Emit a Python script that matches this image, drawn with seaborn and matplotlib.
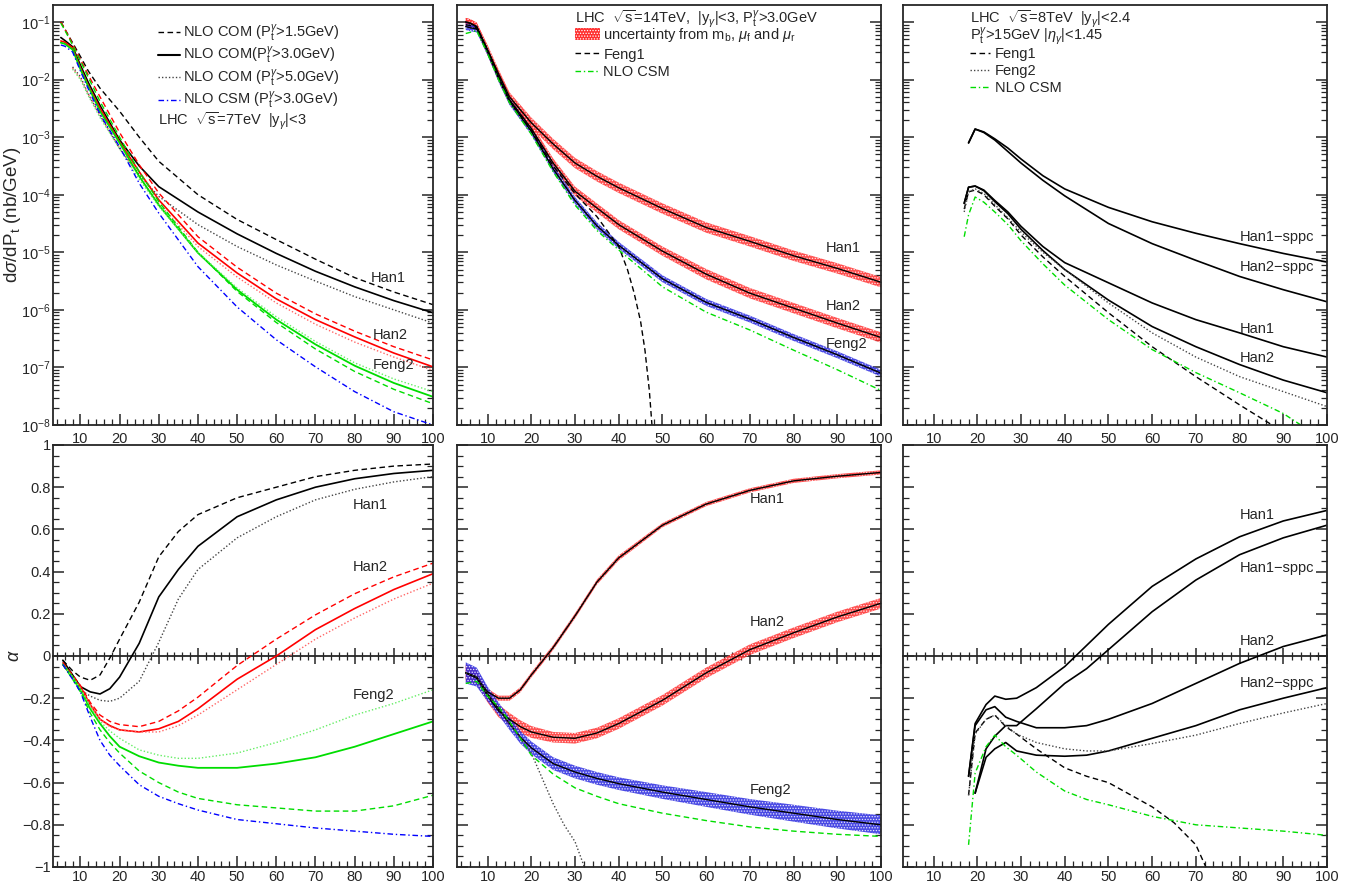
import numpy as np
import matplotlib
matplotlib.use("Agg")
import matplotlib.pyplot as plt
import seaborn as sns
from matplotlib.lines import Line2D
from matplotlib.patches import Patch
from matplotlib.ticker import MultipleLocator, LogLocator, NullFormatter, FuncFormatter

nan = np.nan
# ---------------- Panel 1 (LHC 7 TeV): log10 dsigma/dPt ----------------
p1_x = [5, 6, 8, 10, 12, 15, 20, 25, 30, 40, 50, 60, 70, 80, 90, 100]
p1_black_15 = [-1.0, -1.12, -1.36, -1.6, -1.85, -2.15, -2.55, -3.0, -3.42, -4.0, -4.43, -4.78, -5.12, -5.44, -5.69, -5.91]
p1_black_30 = [-1.27, -1.32, -1.43, -1.75, -2.05, -2.45, -3.05, -3.5, -3.86, -4.30, -4.68, -5.02, -5.33, -5.60, -5.84, -6.05]
p1_red_15 = [-1.0, -1.12, -1.38, -1.65, -1.92, -2.3, -2.92, -3.48, -3.97, -4.73, -5.26, -5.71, -6.07, -6.37, -6.64, -6.87]
p1_red_30 = [-1.33, -1.35, -1.45, -1.8, -2.1, -2.5, -3.08, -3.6, -4.09, -4.84, -5.36, -5.81, -6.17, -6.47, -6.75, -6.99]
p1_green_15 = [-1.02, -1.14, -1.4, -1.68, -1.96, -2.38, -3.0, -3.6, -4.12, -5.0, -5.68, -6.22, -6.68, -7.07, -7.38, -7.63]
p1_green_30 = [-1.36, -1.38, -1.48, -1.82, -2.12, -2.55, -3.1, -3.68, -4.18, -5.01, -5.65, -6.17, -6.6, -6.97, -7.27, -7.51]
p1_blue_30 = [-1.4, -1.42, -1.52, -1.85, -2.16, -2.6, -3.17, -3.8, -4.32, -5.25, -5.95, -6.52, -6.99, -7.42, -7.77, -8.0]
p1_x5 = [8, 10, 12, 15, 20, 25, 30, 40, 50, 60, 70, 80, 90, 100]
p1_black_50 = [-1.78, -1.95, -2.25, -2.62, -3.2, -3.65, -4.03, -4.52, -4.9, -5.22, -5.5, -5.77, -6.0, -6.23]
p1_red_50 = [-1.8, -1.98, -2.25, -2.62, -3.18, -3.68, -4.15, -4.9, -5.43, -5.88, -6.25, -6.56, -6.82, -7.05]
p1_green_50 = [-1.82, -2.0, -2.28, -2.66, -3.2, -3.73, -4.2, -5.0, -5.62, -6.12, -6.55, -6.92, -7.2, -7.42]

# ---------------- Panel 1: alpha ----------------
a1_x = [5.5, 8, 10, 12.5, 15, 17.5, 20, 25, 30, 35, 40, 50, 60, 70, 80, 90, 100]
a1_black_30 = [-0.02, -0.09, -0.145, -0.17, -0.18, -0.155, -0.10, 0.06, 0.28, 0.41, 0.52, 0.66, 0.74, 0.80, 0.84, 0.865, 0.88]
a1_black_15 = [-0.02, -0.07, -0.10, -0.115, -0.09, -0.01, 0.08, 0.255, 0.47, 0.59, 0.67, 0.75, 0.80, 0.85, 0.88, 0.90, 0.91]
a1_black_50 = [-0.03, -0.10, -0.16, -0.19, -0.21, -0.215, -0.20, -0.12, 0.065, 0.27, 0.41, 0.56, 0.66, 0.74, 0.79, 0.825, 0.85]
a1_red_30 = [-0.04, -0.10, -0.145, -0.23, -0.30, -0.33, -0.35, -0.36, -0.345, -0.31, -0.25, -0.11, 0.0, 0.125, 0.225, 0.315, 0.39]
a1_red_15 = [-0.03, -0.09, -0.14, -0.22, -0.28, -0.31, -0.325, -0.335, -0.31, -0.26, -0.195, -0.045, 0.08, 0.195, 0.295, 0.375, 0.44]
a1_red_50 = [-0.04, -0.10, -0.15, -0.23, -0.30, -0.335, -0.35, -0.36, -0.36, -0.33, -0.28, -0.16, -0.04, 0.08, 0.18, 0.27, 0.345]
a1_green_30 = [-0.04, -0.10, -0.16, -0.25, -0.32, -0.38, -0.43, -0.475, -0.505, -0.52, -0.53, -0.53, -0.51, -0.48, -0.43, -0.37, -0.31]
a1_green_50 = [-0.04, -0.10, -0.155, -0.24, -0.31, -0.355, -0.39, -0.445, -0.47, -0.485, -0.485, -0.46, -0.41, -0.35, -0.28, -0.225, -0.16]
a1_green_15 = [-0.04, -0.11, -0.17, -0.27, -0.35, -0.41, -0.46, -0.545, -0.60, -0.645, -0.675, -0.705, -0.72, -0.735, -0.735, -0.71, -0.66]
a1_blue_30 = [-0.04, -0.11, -0.17, -0.29, -0.40, -0.47, -0.52, -0.61, -0.665, -0.70, -0.73, -0.775, -0.795, -0.815, -0.83, -0.845, -0.855]

# ---------------- Panel 2 (LHC 14 TeV): log10 dsigma/dPt ----------------
p2_x = [5, 6, 7.5, 10, 12.5, 15, 20, 25, 30, 35, 40, 50, 60, 70, 80, 90, 100]
p2_han1 = [-1.0, -1.02, -1.08, -1.48, -1.9, -2.3, -2.75, -3.12, -3.45, -3.68, -3.88, -4.24, -4.57, -4.81, -5.06, -5.28, -5.52]
p2_han1_err = [0.07, 0.07, 0.07, 0.08, 0.08, 0.08, 0.09, 0.09, 0.09, 0.09, 0.09, 0.09, 0.09, 0.09, 0.09, 0.09, 0.09]
p2_han2 = [-1.0, -1.02, -1.08, -1.5, -1.95, -2.35, -2.85, -3.45, -3.94, -4.23, -4.52, -4.98, -5.38, -5.71, -5.97, -6.23, -6.48]
p2_han2_err = [0.07, 0.07, 0.07, 0.08, 0.08, 0.08, 0.08, 0.08, 0.08, 0.08, 0.08, 0.08, 0.09, 0.09, 0.09, 0.09, 0.09]
p2_feng2 = [-1.08, -1.1, -1.12, -1.52, -1.98, -2.38, -2.9, -3.55, -4.1, -4.54, -4.88, -5.46, -5.87, -6.16, -6.48, -6.78, -7.1]
p2_feng2_err = [0.06, 0.06, 0.06, 0.06, 0.06, 0.06, 0.06, 0.06, 0.06, 0.06, 0.06, 0.06, 0.06, 0.06, 0.06, 0.06, 0.06]
p2_csm = [-1.2, -1.18, -1.15, -1.55, -2.0, -2.4, -2.95, -3.6, -4.18, -4.62, -4.96, -5.6, -6.04, -6.35, -6.7, -7.04, -7.4]
p2_feng1_x = [5, 6, 7.5, 10, 12.5, 15, 20, 25, 30, 35, 40, 42, 43.5, 45, 46, 47, 47.8]
p2_feng1 = [-1.05, -1.06, -1.1, -1.5, -1.96, -2.36, -2.88, -3.5, -3.98, -4.38, -4.9, -5.3, -5.7, -6.2, -6.7, -7.4, -8.2]

# ---------------- Panel 2: alpha ----------------
a2_x = [5, 7.5, 10, 12.5, 15, 17.5, 20, 25, 30, 35, 40, 50, 60, 70, 80, 90, 100]
a2_han1 = [-0.08, -0.105, -0.17, -0.2, -0.2, -0.16, -0.09, 0.04, 0.19, 0.35, 0.465, 0.62, 0.72, 0.785, 0.83, 0.852, 0.87]
a2_han1_err = [0.03, 0.02, 0.015, 0.012, 0.012, 0.012, 0.012, 0.012, 0.012, 0.012, 0.012, 0.01, 0.01, 0.01, 0.01, 0.01, 0.01]
a2_han2 = [-0.08, -0.10, -0.19, -0.26, -0.30, -0.335, -0.36, -0.385, -0.39, -0.365, -0.32, -0.21, -0.08, 0.03, 0.11, 0.185, 0.25]
a2_han2_err = [0.04, 0.035, 0.03, 0.03, 0.03, 0.03, 0.028, 0.025, 0.025, 0.025, 0.025, 0.025, 0.025, 0.025, 0.025, 0.025, 0.025]
a2_feng2 = [-0.08, -0.10, -0.18, -0.25, -0.32, -0.385, -0.435, -0.51, -0.55, -0.58, -0.605, -0.645, -0.68, -0.715, -0.745, -0.775, -0.80]
a2_feng2_err = [0.05, 0.045, 0.035, 0.03, 0.03, 0.03, 0.03, 0.03, 0.03, 0.03, 0.03, 0.032, 0.035, 0.037, 0.04, 0.042, 0.045]
a2_csm = [-0.13, -0.12, -0.19, -0.24, -0.31, -0.39, -0.47, -0.56, -0.625, -0.665, -0.70, -0.745, -0.78, -0.81, -0.83, -0.845, -0.855]
a2_feng1_x = [5, 7.5, 10, 12.5, 15, 17.5, 20, 22.5, 25, 27.5, 30, 32.5]
a2_feng1 = [-0.08, -0.10, -0.18, -0.25, -0.32, -0.39, -0.46, -0.58, -0.70, -0.80, -0.88, -1.02]

# ---------------- Panel 3 (LHC 8 TeV): log10 dsigma/dPt ----------------
p3_x = [17, 18, 19.5, 21.5, 24, 27, 30, 35, 40, 50, 60, 70, 80, 90, 100]
p3_han1_sppc = [nan, -3.1, -2.86, -2.91, -3.03, -3.19, -3.38, -3.67, -3.9, -4.22, -4.47, -4.67, -4.85, -5.02, -5.17]
p3_han2_sppc = [nan, -3.1, -2.86, -2.92, -3.05, -3.25, -3.45, -3.75, -4.02, -4.5, -4.85, -5.14, -5.42, -5.65, -5.86]
p3_han1 = [-4.15, -3.87, -3.85, -3.92, -4.1, -4.3, -4.55, -4.9, -5.18, -5.53, -5.88, -6.17, -6.4, -6.64, -6.82]
p3_han2 = [-4.15, -3.87, -3.85, -3.93, -4.12, -4.33, -4.6, -4.97, -5.3, -5.83, -6.29, -6.64, -6.95, -7.22, -7.44]
p3_feng2 = [-4.3, -3.95, -3.9, -3.98, -4.17, -4.4, -4.65, -5.0, -5.3, -5.88, -6.4, -6.82, -7.16, -7.42, -7.68]
p3_feng1 = [-4.25, -3.95, -3.92, -4.0, -4.2, -4.42, -4.7, -5.08, -5.42, -6.05, -6.64, -7.16, -7.65, -8.12, -8.5]
p3_csm = [-4.73, -4.35, -4.04, -4.13, -4.3, -4.52, -4.8, -5.2, -5.57, -6.17, -6.69, -7.09, -7.44, -7.8, -8.3]

# ---------------- Panel 3: alpha ----------------
a3_x = [18, 19.5, 22, 24, 26.5, 29, 33.5, 40, 45, 50, 60, 70, 80, 90, 100]
a3_han1 = [-0.57, -0.32, -0.23, -0.19, -0.205, -0.2, -0.15, -0.05, 0.05, 0.15, 0.33, 0.46, 0.565, 0.64, 0.69]
a3_han1_sppc = [nan, -0.65, -0.44, -0.38, -0.33, -0.33, -0.25, -0.13, -0.06, 0.03, 0.21, 0.36, 0.48, 0.56, 0.62]
a3_han2 = [-0.57, -0.33, -0.255, -0.24, -0.29, -0.31, -0.34, -0.34, -0.33, -0.30, -0.225, -0.13, -0.035, 0.045, 0.10]
a3_han2_sppc = [nan, -0.65, -0.48, -0.44, -0.41, -0.45, -0.47, -0.475, -0.47, -0.45, -0.39, -0.33, -0.255, -0.2, -0.15]
a3_feng2 = [-0.66, -0.37, -0.30, -0.28, -0.33, -0.37, -0.41, -0.44, -0.45, -0.45, -0.415, -0.375, -0.32, -0.27, -0.225]
a3_csm = [-0.895, -0.555, -0.43, -0.375, -0.43, -0.47, -0.55, -0.64, -0.68, -0.705, -0.76, -0.80, -0.815, -0.83, -0.85]
a3_feng1_x = [18, 19.5, 22, 24, 26.5, 29, 33.5, 40, 45, 50, 60, 65, 70, 72.5]
a3_feng1 = [-0.66, -0.365, -0.30, -0.28, -0.335, -0.37, -0.44, -0.53, -0.57, -0.60, -0.715, -0.79, -0.895, -1.01]

x_ticks = [10, 20, 30, 40, 50, 60, 70, 80, 90, 100]

# ---------------- style ----------------
sns.set_theme(style="ticks")
plt.rcParams['font.family'] = ['Liberation Sans', 'DejaVu Sans']
plt.rcParams['mathtext.fontset'] = 'custom'
plt.rcParams['mathtext.rm'] = 'Liberation Sans'
plt.rcParams['mathtext.it'] = 'Liberation Sans:italic'
plt.rcParams['mathtext.bf'] = 'Liberation Sans:bold'
plt.rcParams['axes.linewidth'] = 1.3
plt.rcParams['hatch.linewidth'] = 0.6

BLACK = 'black'
RED = '#ff0000'
GREEN = '#00dd00'
BLUE = '#0000ff'
DASH = (0, (4, 2.5))
DOT = (0, (1, 1.5))
DDOT = (0, (4, 2, 1, 2))
FS = 10.5

fig = plt.figure(figsize=(13.56, 8.86), dpi=100)
lefts = [53 / 1356, 457 / 1356, 903 / 1356]
widths = [380 / 1356, 424 / 1356, 424 / 1356]
top_b, top_h = 1 - 425 / 886, 420 / 886
bot_b, bot_h = 1 - 867 / 886, 422 / 886
axt = [fig.add_axes([l, top_b, w, top_h]) for l, w in zip(lefts, widths)]
axb = [fig.add_axes([l, bot_b, w, bot_h]) for l, w in zip(lefts, widths)]


def line(ax, x, y, color, ls='-', lw=1.0, alpha=1.0, log=False):
    y = np.asarray(y, float)
    if log:
        y = 10.0 ** y
    sns.lineplot(x=np.asarray(x, float), y=y, ax=ax, color=color, linestyle=ls,
                 linewidth=lw, alpha=alpha, estimator=None, sort=False, legend=False)


def band(ax, x, c, e, color, log=False):
    c = np.asarray(c, float)
    e = np.asarray(e, float)
    lo, hi = c - e, c + e
    if log:
        lo, hi = 10.0 ** lo, 10.0 ** hi
    ax.fill_between(x, lo, hi, facecolor=color, edgecolor='white', hatch='......',
                    linewidth=0, alpha=0.85)
    line(ax, x, c, BLACK, '-', 1.0, log=log)


# ---------------- top row ----------------
for ax in axt:
    ax.set_yscale('log')
    ax.set_xlim(3, 100)
    ax.set_ylim(1e-8, 10 ** -0.705)

a = axt[0]
line(a, p1_x, p1_black_15, BLACK, DASH, log=True)
line(a, p1_x, p1_black_30, BLACK, '-', 1.2, log=True)
line(a, p1_x5, p1_black_50, '#444444', DOT, log=True)
line(a, p1_x, p1_red_15, RED, DASH, log=True)
line(a, p1_x, p1_red_30, RED, '-', 1.2, log=True)
line(a, p1_x5, p1_red_50, '#ff6666', DOT, log=True)
line(a, p1_x, p1_green_15, GREEN, DASH, log=True)
line(a, p1_x, p1_green_30, GREEN, '-', 1.3, log=True)
line(a, p1_x5, p1_green_50, '#66ee66', DOT, log=True)
line(a, p1_x, p1_blue_30, BLUE, DDOT, log=True)
a.text(84, 10 ** -5.44, 'Han1', fontsize=FS, va='center')
a.text(84.5, 10 ** -6.43, 'Han2', fontsize=FS, va='center')
a.text(84.5, 10 ** -6.95, 'Feng2', fontsize=FS, va='center')
h1 = [Line2D([], [], color=BLACK, ls=DASH, lw=1), Line2D([], [], color=BLACK, lw=1.5),
      Line2D([], [], color='#444444', ls=DOT, lw=1), Line2D([], [], color=BLUE, ls=DDOT, lw=1)]
l1 = [r'NLO COM (P$_{\rm t}^{\gamma}$>1.5GeV)', r'NLO COM(P$_{\rm t}^{\gamma}$>3.0GeV)',
      r'NLO COM (P$_{\rm t}^{\gamma}$>5.0GeV)', r'NLO CSM (P$_{\rm t}^{\gamma}$>3.0GeV)']
a.legend(h1, l1, loc='upper left', bbox_to_anchor=(0.276, 0.958), frameon=False,
         handlelength=1.5, handletextpad=0.25, labelspacing=0.08, borderpad=0,
         borderaxespad=0, fontsize=FS)
a.text(0.276, 0.724, r'LHC  $\sqrt{\rm s}$=7TeV  |y$_{\gamma}$|<3', transform=a.transAxes,
       fontsize=FS, va='center')
a.set_ylabel(r'd$\sigma$/dP$_{\rm t}$ (nb/GeV)', fontsize=13.5)
a.yaxis.set_label_coords(-0.078, 0.5)

a = axt[1]
band(a, p2_x, p2_han1, p2_han1_err, '#ff3030', log=True)
band(a, p2_x, p2_han2, p2_han2_err, '#ff3030', log=True)
band(a, p2_x, p2_feng2, p2_feng2_err, '#2a2ae0', log=True)
line(a, p2_feng1_x, p2_feng1, BLACK, DASH, log=True)
line(a, p2_x, p2_csm, GREEN, DDOT, log=True)
a.text(87.3, 10 ** -4.92, 'Han1', fontsize=FS, va='center')
a.text(87.3, 10 ** -5.93, 'Han2', fontsize=FS, va='center')
a.text(87.3, 10 ** -6.59, 'Feng2', fontsize=FS, va='center')
a.text(0.278, 0.965, r'LHC  $\sqrt{\rm s}$=14TeV,  |y$_{\gamma}$|<3, P$_{\rm t}^{\gamma}$>3.0GeV',
       transform=a.transAxes, fontsize=FS, va='center')
h2 = [Patch(facecolor='#ff3030', edgecolor='white', hatch='......', linewidth=0),
      Line2D([], [], color=BLACK, ls=DASH, lw=1), Line2D([], [], color=GREEN, ls=DDOT, lw=1)]
l2 = [r'uncertainty from m$_{\rm b}$, $\mu_{\rm f}$ and $\mu_{\rm r}$', 'Feng1', 'NLO CSM']
a.legend(h2, l2, loc='upper left', bbox_to_anchor=(0.278, 0.950), frameon=False,
         handlelength=1.7, handleheight=0.9, handletextpad=0.25, labelspacing=0.25,
         borderpad=0, borderaxespad=0, fontsize=FS)

a = axt[2]
line(a, p3_x, p3_han1_sppc, BLACK, '-', 1.2, log=True)
line(a, p3_x, p3_han2_sppc, BLACK, '-', 1.2, log=True)
line(a, p3_x, p3_han1, BLACK, '-', 1.2, log=True)
line(a, p3_x, p3_han2, BLACK, '-', 1.2, log=True)
line(a, p3_x, p3_feng1, BLACK, DASH, log=True)
line(a, p3_x, p3_feng2, '#444444', DOT, log=True)
line(a, p3_x, p3_csm, GREEN, DDOT, log=True)
a.text(80, 10 ** -4.73, 'Han1−sppc', fontsize=FS, va='center')
a.text(80, 10 ** -5.25, 'Han2−sppc', fontsize=FS, va='center')
a.text(80, 10 ** -6.33, 'Han1', fontsize=FS, va='center')
a.text(80, 10 ** -6.83, 'Han2', fontsize=FS, va='center')
a.text(0.158, 0.965, r'LHC  $\sqrt{\rm s}$=8TeV  |y$_{\gamma}$|<2.4', transform=a.transAxes,
       fontsize=FS, va='center')
a.text(0.158, 0.926, r'P$_{\rm t}^{\gamma}$>15GeV |$\eta_{\gamma}$|<1.45', transform=a.transAxes,
       fontsize=FS, va='center')
h3 = [Line2D([], [], color=BLACK, ls=DASH, lw=1), Line2D([], [], color='#444444', ls=DOT, lw=1),
      Line2D([], [], color=GREEN, ls=DDOT, lw=1)]
a.legend(h3, ['Feng1', 'Feng2', 'NLO CSM'], loc='upper left', bbox_to_anchor=(0.158, 0.900),
         frameon=False, handlelength=1.4, handletextpad=0.3, labelspacing=0.2, borderpad=0,
         borderaxespad=0, fontsize=FS)

for i, ax in enumerate(axt):
    ax.yaxis.set_major_locator(LogLocator(base=10, numticks=20))
    ax.yaxis.set_minor_locator(LogLocator(base=10, subs=np.arange(2, 10), numticks=20))
    ax.yaxis.set_minor_formatter(NullFormatter())
    if i > 0:
        ax.set_yticklabels([])

# ---------------- bottom row ----------------
for ax in axb:
    ax.set_xlim(3, 100)
    ax.set_ylim(-1, 1)

a = axb[0]
line(a, a1_x, a1_black_15, BLACK, DASH)
line(a, a1_x, a1_black_30, BLACK, '-', 1.2)
line(a, a1_x, a1_black_50, '#444444', DOT)
line(a, a1_x, a1_red_15, RED, DASH)
line(a, a1_x, a1_red_30, RED, '-', 1.2)
line(a, a1_x, a1_red_50, '#ff6666', DOT)
line(a, a1_x, a1_green_15, GREEN, DASH)
line(a, a1_x, a1_green_30, GREEN, '-', 1.3)
line(a, a1_x, a1_green_50, '#66ee66', DOT)
line(a, a1_x, a1_blue_30, BLUE, DDOT)
a.text(79.4, 0.716, 'Han1', fontsize=FS, va='center')
a.text(79.4, 0.42, 'Han2', fontsize=FS, va='center')
a.text(79.4, -0.185, 'Feng2', fontsize=FS, va='center')
a.set_ylabel(r'$\alpha$', fontsize=13)
a.yaxis.set_label_coords(-0.08, 0.5)

a = axb[1]
band(a, a2_x, a2_han1, a2_han1_err, '#ff3030')
band(a, a2_x, a2_han2, a2_han2_err, '#ff3030')
band(a, a2_x, a2_feng2, a2_feng2_err, '#2a2ae0')
line(a, a2_feng1_x, a2_feng1, '#444444', DOT)
line(a, a2_x, a2_csm, GREEN, DASH)
a.text(70, 0.744, 'Han1', fontsize=FS, va='center')
a.text(70, 0.16, 'Han2', fontsize=FS, va='center')
a.text(70, -0.635, 'Feng2', fontsize=FS, va='center')

a = axb[2]
line(a, a3_x, a3_han1, BLACK, '-', 1.2)
line(a, a3_x, a3_han1_sppc, BLACK, '-', 1.2)
line(a, a3_x, a3_han2, BLACK, '-', 1.2)
line(a, a3_x, a3_han2_sppc, BLACK, '-', 1.2)
line(a, a3_feng1_x, a3_feng1, BLACK, DASH)
line(a, a3_x, a3_feng2, '#444444', DOT)
line(a, a3_x, a3_csm, GREEN, DDOT)
a.text(80, 0.668, 'Han1', fontsize=FS, va='center')
a.text(80, 0.417, 'Han1−sppc', fontsize=FS, va='center')
a.text(80, 0.071, 'Han2', fontsize=FS, va='center')
a.text(80, -0.128, 'Han2−sppc', fontsize=FS, va='center')


def alpha_fmt(v, p):
    v = 0.0 if abs(v) < 1e-9 else round(v, 3)
    return f"{v:g}".replace('-', '−')


for i, ax in enumerate(axb):
    ax.yaxis.set_major_locator(MultipleLocator(0.2))
    ax.yaxis.set_minor_locator(MultipleLocator(0.05))
    if i == 0:
        ax.yaxis.set_major_formatter(FuncFormatter(alpha_fmt))
    else:
        ax.set_yticklabels([])
    sec = ax.secondary_xaxis(0.5)
    sec.set_xticks(x_ticks)
    sec.xaxis.set_minor_locator(MultipleLocator(2))
    sec.tick_params(which='major', direction='inout', length=11, width=1.1,
                    labelbottom=False, labeltop=False)
    sec.tick_params(which='minor', direction='inout', length=6, width=0.9)
    for s in sec.spines.values():
        s.set_linewidth(1.3)

# ---------------- common tick style ----------------
for ax in axt + axb:
    ax.set_xticks(x_ticks)
    ax.xaxis.set_minor_locator(MultipleLocator(2))
    ax.tick_params(which='both', direction='in', top=False, right=True, labelsize=10.5)
    ax.tick_params(which='major', length=8, width=1.1)
    ax.tick_params(which='minor', length=4, width=0.9)
    ax.tick_params(axis='y', which='major', pad=1.5)
for ax in axt:
    ax.tick_params(axis='x', which='major', pad=5)
for ax in axb:
    ax.tick_params(axis='x', which='major', pad=2)

fig.savefig('out.png', dpi=100)
